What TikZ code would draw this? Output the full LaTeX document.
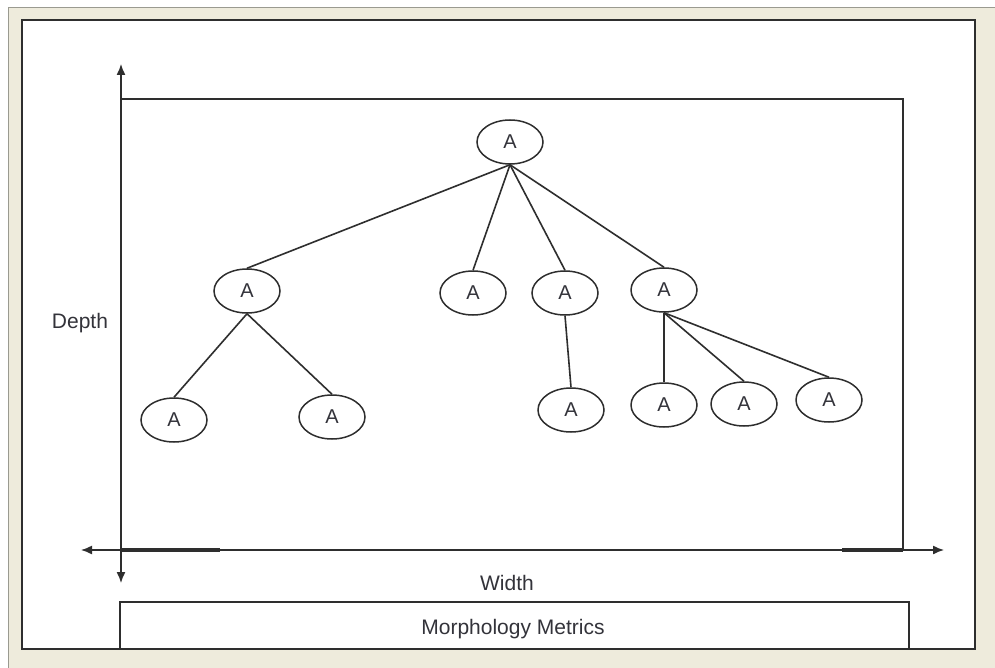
\documentclass[tikz,border=0pt]{standalone}
\usepackage{fontspec}
\setmainfont{Liberation Sans}
\usetikzlibrary{shapes.geometric,arrows.meta}
\definecolor{linec}{HTML}{2E2E2E}
\definecolor{txt}{HTML}{33333A}
\definecolor{beige}{HTML}{EEEBDC}
\definecolor{frameg}{HTML}{9A9A90}
\begin{document}
\begin{tikzpicture}[x=1pt,y=-1pt,
  nd/.style={ellipse, draw=linec, line width=1.5pt, minimum width=66pt, minimum height=44pt, inner sep=0pt, font=\fontsize{20}{20}\selectfont, text=txt},
  edge/.style={draw=linec, line width=1.6pt},
  axisline/.style={draw=linec, line width=1.4pt, {Latex[length=11pt,width=9pt]}-{Latex[length=11pt,width=9pt]}},
  frameline/.style={draw=linec, line width=2pt},
  lbl/.style={font=\fontsize{21}{21}\selectfont, text=txt, inner sep=0pt}]
\useasboundingbox (0,0) rectangle (995,668);
\fill[white] (0,0) rectangle (995,668);
% window frame
\fill[beige] (8,8) rectangle (995,668);
\draw[frameg, line width=1pt] (8,668) -- (8,8) -- (995,8);
\filldraw[fill=white, draw=linec, line width=2pt] (22,20) rectangle (975,649);
% main rectangle and axes
\draw[frameline] (121,550) -- (121,99) -- (903,99) -- (903,550);
\draw[linec, line width=3.5pt] (121,550) -- (220,550);
\draw[linec, line width=3.5pt] (842,550) -- (903,550);
\coordinate (vtop) at (121,64);
\coordinate (vbot) at (121,583);
\coordinate (hleft) at (81,550);
\coordinate (hright) at (944,550);
\draw[axisline] (vbot) -- (vtop);
\draw[axisline] (hleft) -- (hright);
% labels
\node[lbl] (depth) at (80,323) {Depth};
\node[lbl] (width) at (507,583) {Width};
% metrics box
\draw[frameline] (120,649) -- (120,602) -- (909,602) -- (909,649);
\node[lbl] (metrics) at (513,629) {Morphology Metrics};
% tree nodes
\node[nd] (r) at (510,142) {A};
\node[nd] (a) at (247,291) {A};
\node[nd] (b) at (473,293) {A};
\node[nd] (c) at (565,293) {A};
\node[nd] (d) at (664,290) {A};
\node[nd] (a1) at (174,420) {A};
\node[nd] (a2) at (332,417) {A};
\node[nd] (c1) at (571,410) {A};
\node[nd] (d1) at (664,405) {A};
\node[nd] (d2) at (744,404) {A};
\node[nd] (d3) at (829,400) {A};
% edges
\foreach \ch in {a,b,c,d} \draw[edge] (r.south) -- (\ch.north);
\foreach \ch in {a1,a2} \draw[edge] (a.south) -- (\ch.north);
\draw[edge] (c.south) -- (c1.north);
\foreach \ch in {d1,d2,d3} \draw[edge] (d.south) -- (\ch.north);
\end{tikzpicture}
\end{document}
